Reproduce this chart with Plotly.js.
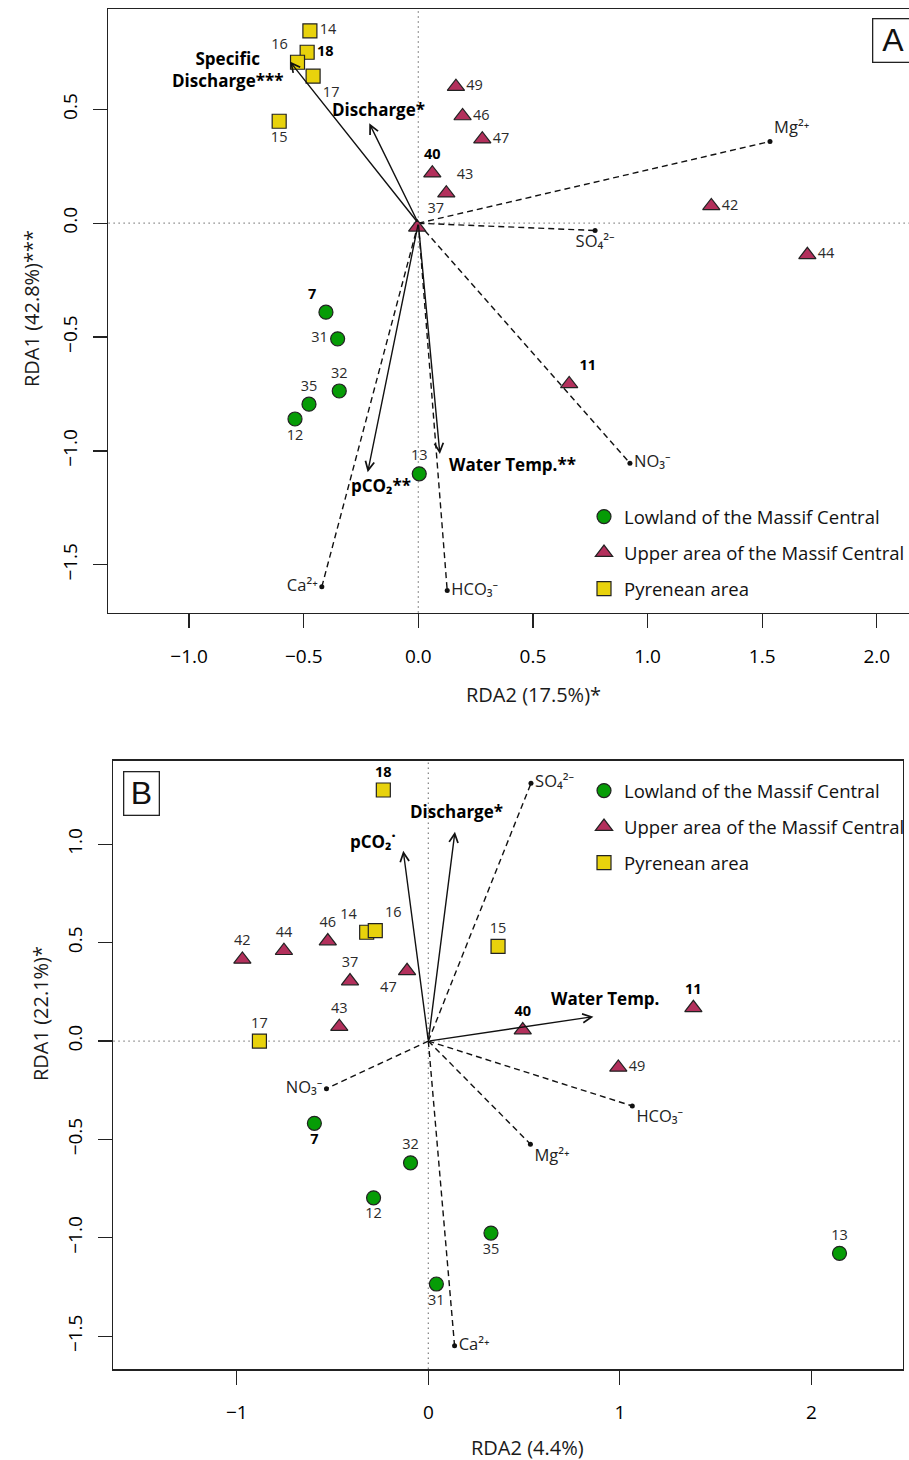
<!DOCTYPE html>
<html><head><meta charset="utf-8">
<script src="https://cdn.plot.ly/plotly-3.0.1.min.js"></script>
<style>html,body{margin:0;padding:0;overflow:hidden;background:#fff;} #chart{width:940px;height:1460px;}</style>
</head><body><div id="chart"></div><script>
// ---------------- DATA : Panel A ----------------
const groupNames = ['Lowland of the Massif Central','Upper area of the Massif Central','Pyrenean area'];
const boldSites = ['7','11','18','40'];

const sitesA_low = ['7','31','32','35','12','13'];
const xA_low = [-0.403,-0.352,-0.345,-0.477,-0.538,0.004];
const yA_low = [-0.391,-0.508,-0.737,-0.795,-0.860,-1.101];
const sitesA_up = ['49','46','47','40','43','37','42','44','11'];
const xA_up = [0.164,0.193,0.279,0.061,0.122,-0.005,1.278,1.697,0.658];
const yA_up = [0.600,0.471,0.369,0.220,0.132,-0.018,0.076,-0.139,-0.706];
const sitesA_pyr = ['14','18','16','17','15'];
const xA_pyr = [-0.473,-0.485,-0.527,-0.459,-0.607];
const yA_pyr = [0.845,0.751,0.707,0.646,0.448];

const envA = ['Specific<br>Discharge***','Discharge*','pCO₂**','Water Temp.**'];
const envA_x = [-0.560,-0.214,-0.221,0.094];
const envA_y = [0.710,0.439,-1.094,-1.014];

const ionA = ['Mg²⁺','SO₄²⁻','NO₃⁻','HCO₃⁻','Ca²⁺'];
const ionA_x = [1.534,0.771,0.923,0.126,-0.421];
const ionA_y = [0.359,-0.032,-1.054,-1.614,-1.597];

// ---------------- DATA : Panel B ----------------
const sitesB_low = ['7','32','12','35','13','31'];
const xB_low = [-0.595,-0.093,-0.286,0.327,2.147,0.042];
const yB_low = [-0.418,-0.619,-0.797,-0.976,-1.079,-1.235];
const sitesB_up = ['42','44','46','37','47','43','40','11','49'];
const xB_up = [-0.971,-0.754,-0.525,-0.409,-0.111,-0.465,0.493,1.384,0.992];
const yB_up = [0.415,0.459,0.508,0.305,0.357,0.073,0.056,0.169,-0.134];
const sitesB_pyr = ['18','14','16','15','17'];
const xB_pyr = [-0.235,-0.322,-0.277,0.364,-0.882];
const yB_pyr = [1.276,0.553,0.561,0.481,0.000];

const envB = ['pCO₂˙','Discharge*','Water Temp.'];
const envB_x = [-0.131,0.139,0.862];
const envB_y = [0.967,1.064,0.124];

const ionB = ['SO₄²⁻','NO₃⁻','HCO₃⁻','Mg²⁺','Ca²⁺'];
const ionB_x = [0.536,-0.532,1.065,0.533,0.137];
const ionB_y = [1.310,-0.242,-0.330,-0.524,-1.549];

const xTicksA = [-1,-0.5,0,0.5,1,1.5,2];
const yTicksA = [-1.5,-1,-0.5,0,0.5];
const xTicksB = [-1,0,1,2];
const yTicksB = [-1.5,-1,-0.5,0,0.5,1];

// ---------------- STYLE ----------------
const W = 940, H = 1460;
const FONT = 'Open Sans, Noto Sans, sans-serif';
const colors = ['#069c06','#b3305c','#e8d20c'];
const symbols = ['circle','triangle-up','square'];
const posA = {
  low: ['top left','middle left','top center','top center','bottom center','top center'],
  up: ['middle right','middle right','middle right','top center','top right','top right','middle right','middle right','top right'],
  pyr: ['middle right','middle right','top left','bottom right','bottom center'],
  ion: ['top right','bottom center','middle right','middle right','middle left']
};
const posB = {
  low: ['bottom center','top center','bottom center','bottom center','top center','bottom center'],
  up: ['top center','top center','top center','top center','bottom left','top center','top center','top center','middle right'],
  pyr: ['top center','top left','top right','top center','top center'],
  ion: ['middle right','middle left','bottom right','bottom right','middle right']
};
const envShiftA = [[-62,-8,'center'],[9,14,'center'],[13,-13,'center'],[7,-10,'left']];
const envShiftB = [[-5,9,'right'],[2,20,'center'],[12,18,'center']];

function px(v){return v/W;}
function py(v){return 1 - v/H;}

function siteTrace(names, xs, ys, gi, pos, xa, ya, leg){
  return {
    type:'scatter', mode:'markers+text', x:xs, y:ys, xaxis:xa, yaxis:ya,
    name: groupNames[gi], legend: leg, legendgroup: leg+gi, showlegend:true,
    text: names.map(s => boldSites.includes(s) ? '<b>'+s+'</b>' : s),
    textposition: pos, cliponaxis:false,
    textfont:{family:FONT, size:14.5, color: names.map(s => boldSites.includes(s) ? '#000' : '#2a2a2a')},
    marker:{symbol:symbols[gi], color:colors[gi], size:(gi===1?15:14), line:{color:'#222', width:1.2}}
  };
}
function ionLines(xs, ys, xa, ya){
  const lx=[], ly=[];
  xs.forEach((v,i)=>{lx.push(0, v, null); ly.push(0, ys[i], null);});
  return {type:'scatter', mode:'lines', x:lx, y:ly, xaxis:xa, yaxis:ya, showlegend:false,
    line:{color:'#111', width:1.4, dash:'6px,4px'}};
}
function ionPoints(names, xs, ys, pos, xa, ya){
  return {type:'scatter', mode:'markers+text', x:xs, y:ys, xaxis:xa, yaxis:ya, showlegend:false,
    text:names, textposition:pos, cliponaxis:false,
    textfont:{family:FONT, size:16.5, color:'#222'},
    marker:{color:'#111', size:5}};
}

const data = [
  ionLines(ionA_x, ionA_y, 'x', 'y'),
  ionPoints(ionA, ionA_x, ionA_y, posA.ion, 'x', 'y'),
  siteTrace(sitesA_low, xA_low, yA_low, 0, posA.low, 'x', 'y', 'legend'),
  siteTrace(sitesA_up, xA_up, yA_up, 1, posA.up, 'x', 'y', 'legend'),
  siteTrace(sitesA_pyr, xA_pyr, yA_pyr, 2, posA.pyr, 'x', 'y', 'legend'),
  ionLines(ionB_x, ionB_y, 'x2', 'y2'),
  ionPoints(ionB, ionB_x, ionB_y, posB.ion, 'x2', 'y2'),
  siteTrace(sitesB_low, xB_low, yB_low, 0, posB.low, 'x2', 'y2', 'legend2'),
  siteTrace(sitesB_up, xB_up, yB_up, 1, posB.up, 'x2', 'y2', 'legend2'),
  siteTrace(sitesB_pyr, xB_pyr, yB_pyr, 2, posB.pyr, 'x2', 'y2', 'legend2')
];

const annotations = [];
function addArrows(names, xs, ys, shifts, xr, yr){
  xs.forEach((v,i)=>{
    annotations.push({xref:xr, yref:yr, axref:xr, ayref:yr, x:v, y:ys[i], ax:0, ay:0, text:'',
      showarrow:true, arrowhead:5, arrowsize:1.25, arrowwidth:1.4, arrowcolor:'#111', standoff:0});
    annotations.push({xref:xr, yref:yr, x:v, y:ys[i], text:'<b>'+names[i]+'</b>', showarrow:false,
      xshift:shifts[i][0], yshift:shifts[i][1], xanchor:shifts[i][2], yanchor:'middle', align:'center',
      font:{family:FONT, size:17, color:'#000'}});
  });
}
addArrows(envA, envA_x, envA_y, envShiftA, 'x', 'y');
addArrows(envB, envB_x, envB_y, envShiftB, 'x2', 'y2');

const titleFont = {family:FONT, size:20, color:'#1a1a1a'};
function title(txt, x, y, ang){
  return {xref:'paper', yref:'paper', x:px(x), y:py(y), xanchor:'center', yanchor:'middle',
    text:txt, textangle:ang, showarrow:false, font:titleFont};
}
annotations.push(
  title('RDA2 (17.5%)*', 533, 694, 0),
  title('RDA1 (42.8%)***', 32, 309, -90),
  title('RDA2 (4.4%)', 527, 1447, 0),
  title('RDA1 (22.1%)*', 40, 1014, -90),
  {xref:'paper', yref:'paper', x:px(872), y:py(18), xanchor:'left', yanchor:'top', text:'A', showarrow:false,
   width:40, height:42, borderpad:0, bordercolor:'#222', borderwidth:1.3, bgcolor:'#fff',
   font:{family:'Liberation Sans, Arial, sans-serif', size:32, color:'#111'}},
  {xref:'paper', yref:'paper', x:px(123), y:py(771), xanchor:'left', yanchor:'top', text:'B', showarrow:false,
   width:34, height:42, borderpad:0, bordercolor:'#222', borderwidth:1.3, bgcolor:'#fff',
   font:{family:'Liberation Sans, Arial, sans-serif', size:32, color:'#111'}}
);

function zeroShapes(xa, ya){
  const l = {color:'#888', width:1.3, dash:'1.5px,3.5px'};
  return [
    {type:'line', layer:'below', xref:xa, yref:ya+' domain', x0:0, x1:0, y0:0, y1:1, line:l},
    {type:'line', layer:'below', xref:xa+' domain', yref:ya, x0:0, x1:1, y0:0, y1:0, line:l}
  ];
}

const axBase = {showgrid:false, zeroline:false, showline:true, mirror:true, linecolor:'#222', linewidth:1.5,
  ticks:'outside', ticklen:14, tickwidth:1.3, tickcolor:'#222', tickfont:{family:FONT, size:19, color:'#000'}};

const legBase = {xanchor:'left', yanchor:'top', bgcolor:'rgba(0,0,0,0)', borderwidth:0,
  font:{family:FONT, size:18.5, color:'#111'}, itemsizing:'trace', traceorder:'grouped', tracegroupgap:9, valign:'middle'};

const layout = {
  width:W, height:H, margin:{l:0,r:0,t:0,b:0}, paper_bgcolor:'#fff', plot_bgcolor:'#fff',
  font:{family:FONT}, hovermode:false,
  xaxis:Object.assign({}, axBase, {domain:[px(108.4), px(930)], range:[-1.352,2.232], tickvals:xTicksA, tickformat:'.1f', anchor:'y', ticklabelstandoff:12}),
  yaxis:Object.assign({}, axBase, {domain:[py(612.7), py(9)], range:[-1.711,0.941], tickvals:yTicksA, tickformat:'.1f', tickangle:-90, anchor:'x', ticklabelstandoff:8}),
  xaxis2:Object.assign({}, axBase, {domain:[px(113.3), px(902.7)], range:[-1.645,2.477], tickvals:xTicksB, tickformat:'d', anchor:'y2', ticklabelstandoff:12}),
  yaxis2:Object.assign({}, axBase, {domain:[py(1369), py(760.7)], range:[-1.667,1.425], tickvals:yTicksB, tickformat:'.1f', tickangle:-90, anchor:'x2', ticklabelstandoff:8}),
  legend:Object.assign({}, legBase, {x:px(584), y:py(498)}),
  legend2:Object.assign({}, legBase, {x:px(584), y:py(772)}),
  shapes: zeroShapes('x','y').concat(zeroShapes('x2','y2')),
  annotations: annotations
};

Plotly.newPlot('chart', data, layout, {displayModeBar:false, staticPlot:true});
</script></body></html>
